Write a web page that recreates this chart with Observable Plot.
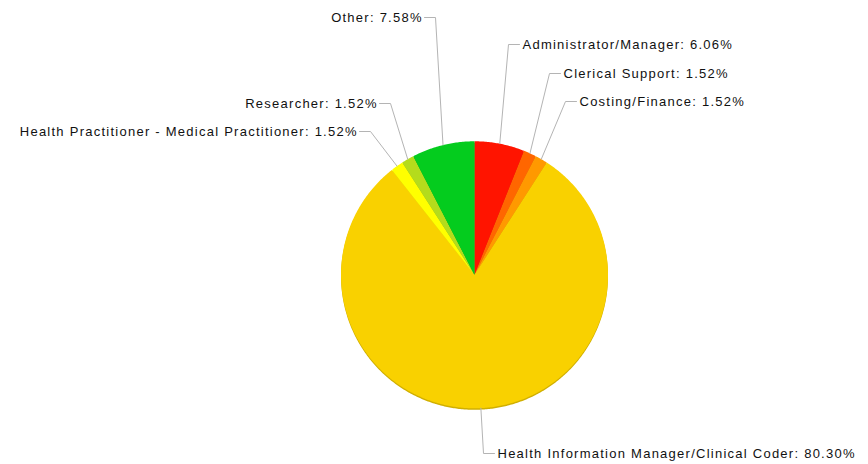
<!DOCTYPE html>
<html><head><meta charset="utf-8">
<script src="https://cdn.jsdelivr.net/npm/d3@7"></script>
<script src="https://cdn.jsdelivr.net/npm/@observablehq/plot@0.6"></script>
<style>html,body{margin:0;padding:0;background:#fff} svg text{letter-spacing:1.25px}</style>
</head><body><div id="chart"></div>
<script>
// ---- data ----
const categories = [
  "Administrator/Manager",
  "Clerical Support",
  "Costing/Finance",
  "Health Information Manager/Clinical Coder",
  "Health Practitioner - Medical Practitioner",
  "Researcher",
  "Other"
];
const percents = [6.06, 1.52, 1.52, 80.30, 1.52, 1.52, 7.58];
const labelTexts = categories.map((c, i) => `${c}: ${percents[i].toFixed(2)}%`);

// ---- styles / layout ----
const colors = ["#ff1400", "#ff6600", "#ff9900", "#f9d100", "#ffff00", "#b4dc1c", "#04cc1e"];
const W = 868, H = 464;
const cx = 474, cy = 274.3, R = 133.5;
// elbow point of each leader line and which side the label sits on
const labelLayout = [
  {ex: 508, ey: 44, side: 1},
  {ex: 549, ey: 73, side: 1},
  {ex: 565, ey: 101, side: 1},
  {ex: 483, ey: 453, side: 1},
  {ex: 370, ey: 131, side: -1},
  {ex: 390, ey: 103, side: -1},
  {ex: 435, ey: 17, side: -1}
];
const stub = 11, gap = 3;

// ---- geometry from the data ----
const arcs = d3.pie().sort(null).value(d => d)(percents);
const pt = (a, r) => [cx + r * Math.sin(a), cy - r * Math.cos(a)];
const slicePts = [];
arcs.forEach((a, i) => {
  const cat = categories[i];
  slicePts.push({cat, x: cx, y: cy});
  const n = Math.max(2, Math.ceil((a.endAngle - a.startAngle) / 0.01));
  for (let k = 0; k <= n; k++) {
    const ang = a.startAngle + (a.endAngle - a.startAngle) * k / n;
    const [x, y] = pt(ang, R);
    slicePts.push({cat, x, y});
  }
  slicePts.push({cat, x: cx, y: cy});
});
const leaderPts = [];
const labels = [];
arcs.forEach((a, i) => {
  const mid = (a.startAngle + a.endAngle) / 2;
  const [x0, y0] = pt(mid, R);
  const L = labelLayout[i];
  const cat = categories[i];
  leaderPts.push({cat, x: x0, y: y0});
  leaderPts.push({cat, x: L.ex, y: L.ey});
  leaderPts.push({cat, x: L.ex + L.side * stub, y: L.ey});
  labels.push({text: labelTexts[i], x: L.ex + L.side * (stub + gap), y: L.ey, side: L.side});
});

const chart = Plot.plot({
  width: W, height: H,
  margin: 0,
  x: {domain: [0, W], range: [0, W], axis: null},
  y: {domain: [0, H], range: [0, H], axis: null},
  color: {domain: categories, range: colors},
  style: {fontFamily: "'Liberation Sans', Arial, sans-serif", background: "#fff"},
  marks: [
    Plot.line(slicePts, {x: "x", y: "y", z: "cat", fill: d => d3.color(colors[categories.indexOf(d.cat)]).darker(0.5).formatHex(), stroke: "none", dy: 1.5}),
    Plot.line(slicePts, {x: "x", y: "y", z: "cat", fill: "cat", stroke: "none"}),
    Plot.line(leaderPts, {x: "x", y: "y", z: "cat", stroke: "#b4b4b4", strokeWidth: 1}),
    Plot.text(labels.filter(d => d.side > 0), {x: "x", y: "y", text: "text", textAnchor: "start", fontSize: 13, fill: "#111"}),
    Plot.text(labels.filter(d => d.side < 0), {x: "x", y: "y", text: "text", textAnchor: "end", fontSize: 13, fill: "#111", dx: 1.25})
  ]
});
document.getElementById("chart").appendChild(chart);
</script>
</body></html>
